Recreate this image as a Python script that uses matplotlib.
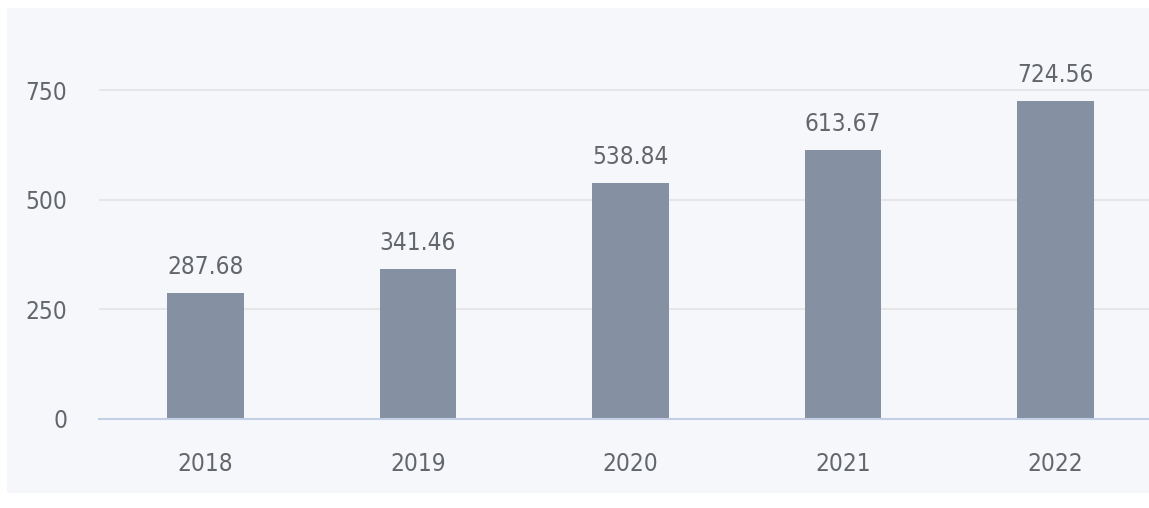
import matplotlib.pyplot as plt
from matplotlib.patches import Rectangle
import matplotlib.font_manager as fm

years = ['2018', '2019', '2020', '2021', '2022']
values = [287.68, 341.46, 538.84, 613.67, 724.56]
yticks = [0, 250, 500, 750]

# look for a narrow face, the reference uses a condensed sans
cands = [f for f in fm.fontManager.ttflist
         if ('Condensed' in f.fname or 'Narrow' in f.fname)
         and 'Bold' not in f.fname and 'Oblique' not in f.fname and 'Italic' not in f.fname]
if cands:
    fp = fm.FontProperties(fname=cands[0].fname)
    size = 17.5
else:
    fp = fm.FontProperties(family='DejaVu Sans')
    size = 15

fig = plt.figure(figsize=(11.49, 5.08), dpi=100, facecolor='white')
# light panel behind the chart
fig.patches.append(Rectangle((7 / 1149, 1 - 493 / 508), 1, (493 - 8) / 508,
                             transform=fig.transFigure, facecolor='#f5f7fb',
                             edgecolor='none', zorder=-10))

ax = fig.add_axes([99 / 1149, 1 - 419 / 508, 1 - 99 / 1149, (419 - 60) / 508])
ax.set_facecolor('none')
x = range(len(years))
ax.bar(x, values, width=0.36, color='#8591a2', zorder=3)
for xi, v in zip(x, values):
    ax.annotate(f'{v:.2f}', (xi, v), xytext=(0, 10), textcoords='offset points',
                ha='center', va='bottom', fontproperties=fp, fontsize=size, color='#63666b')

ax.set_xlim(-0.5, (1149 - 99) / 212.5 - 0.5)
ax.set_ylim(0, (419 - 60) / (329 / 750))
ax.set_yticks(yticks)
ax.set_xticks(list(x))
ax.set_xticklabels(years)
for lab in ax.get_xticklabels() + ax.get_yticklabels():
    lab.set_fontproperties(fp)
    lab.set_fontsize(size)
ax.tick_params(axis='both', length=0, labelcolor='#63666b')
ax.tick_params(axis='x', pad=24)
ax.tick_params(axis='y', pad=23)
ax.grid(axis='y', color='#e3e3e3', linewidth=1.2, zorder=0)
for s in ['top', 'right', 'left']:
    ax.spines[s].set_visible(False)
ax.spines['bottom'].set_color('#c4cfe6')
ax.spines['bottom'].set_linewidth(1.5)
ax.spines['bottom'].set_zorder(4)

plt.savefig('out.png', dpi=100)
